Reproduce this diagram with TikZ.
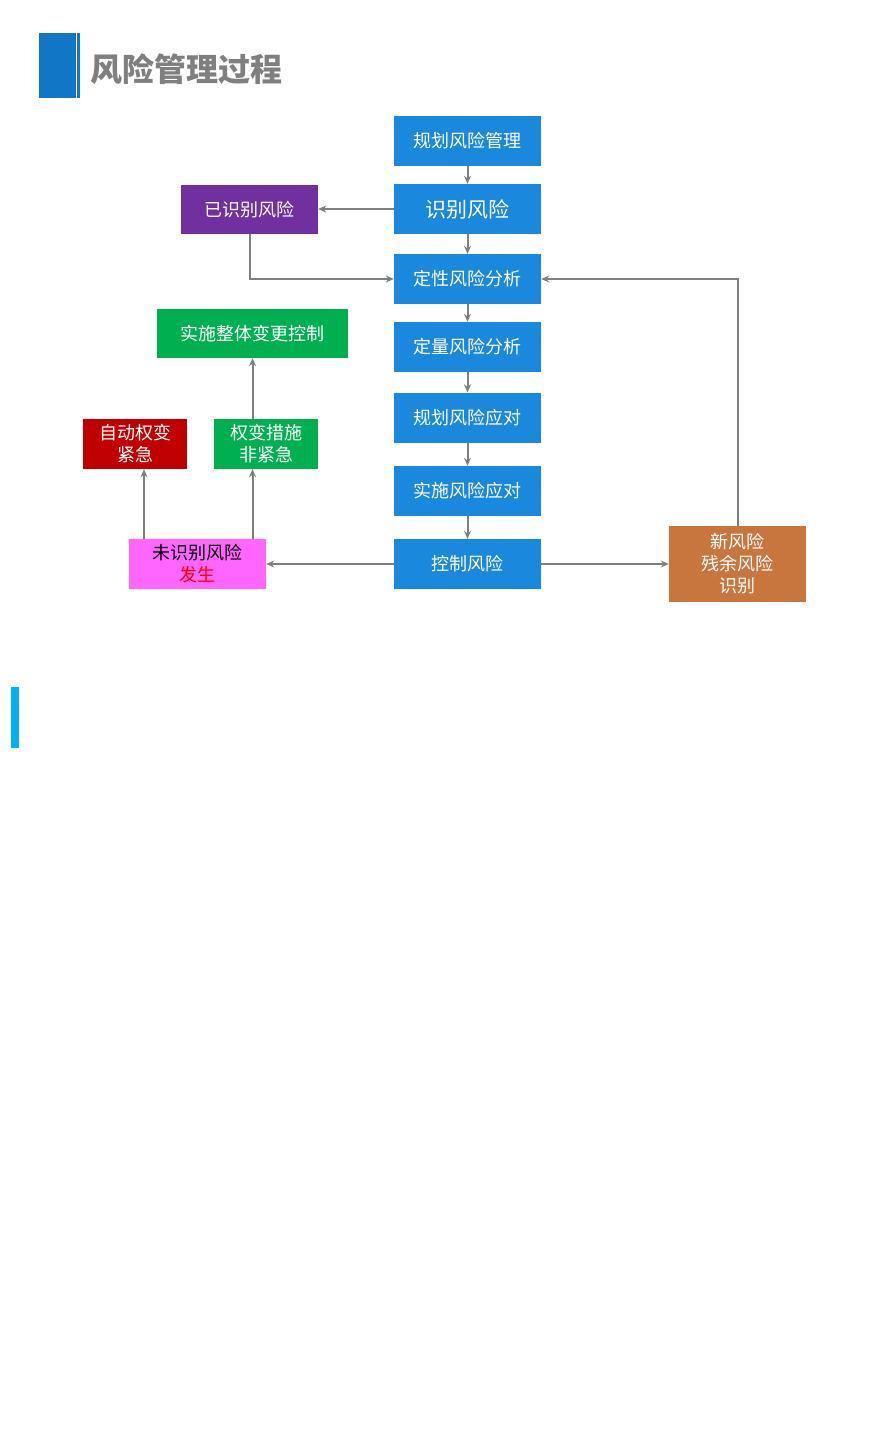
\documentclass[tikz,border=0pt]{standalone}
\usepackage{fontspec}
\newfontfamily\cjk{Noto Sans CJK SC}
\usetikzlibrary{arrows.meta}
\definecolor{boxblue}{HTML}{1A88DC}
\definecolor{headblue}{HTML}{1276C6}
\definecolor{boxpurple}{HTML}{7030A0}
\definecolor{boxred}{HTML}{C00000}
\definecolor{boxgreen}{HTML}{00B050}
\definecolor{boxpink}{HTML}{FF66FF}
\definecolor{boxorange}{HTML}{C8763E}
\definecolor{linegray}{HTML}{7F7F7F}
\definecolor{barcyan}{HTML}{00B0F0}

\begin{document}
\begin{tikzpicture}[x=1pt,y=-1pt,
  box/.style={minimum width=147pt,minimum height=50pt,inner sep=0,text=white,align=center,font=\cjk\fontsize{18}{22}\selectfont},
  link/.style={draw=linegray,line width=2pt,-{Stealth[length=8pt,width=7pt]}}]
\useasboundingbox (0,0) rectangle (873,1436);
% title
\fill[headblue] (39,33) rectangle (76,98);
\fill[headblue] (77,33) rectangle (80,98);
\node[anchor=west,text=linegray,font=\cjk\bfseries\fontsize{32}{34}\selectfont,inner sep=0] (title) at (90,69) {风险管理过程};
% main column
\foreach \j/\y/\t in {0/141/规划风险管理,2/279/定性风险分析,3/347/定量风险分析,4/417.5/规划风险应对,5/491/实施风险应对,6/564/控制风险}
  \node[box,fill=boxblue] (s\j) at (467.5,\y) {\t};
\node[box,fill=boxblue,font=\cjk\fontsize{21}{24}\selectfont] (s1) at (467.5,209) {识别风险};
% side boxes
\node[box,fill=boxpurple,minimum width=137pt,minimum height=49pt] (known) at (249.5,209.5) {已识别风险};
\node[box,fill=boxgreen,minimum width=191pt,minimum height=49pt] (change) at (252.5,333.5) {实施整体变更控制};
\node[box,fill=boxred,minimum width=104pt,minimum height=50pt] (auto) at (135,444) {自动权变\\紧急};
\node[box,fill=boxgreen,minimum width=104pt,minimum height=50pt] (work) at (266,444) {权变措施\\非紧急};
\node[box,fill=boxpink,minimum width=137pt,minimum height=50pt,text=black] (unknown) at (197.5,564) {未识别风险\\\textcolor{red}{发生}};
\node[box,fill=boxorange,minimum width=137pt,minimum height=76pt] (new) at (737.5,564) {新风险\\残余风险\\识别};
% connectors
\foreach \a/\b in {s0/s1,s1/s2,s2/s3,s3/s4,s4/s5,s5/s6}
  \draw[link] (\a) -- (\b);
\draw[link] (s1.west) -- (s1.west -| known.east);
\draw[link] (known.south) |- (s2.west);
\draw[link] (new.north) |- (s2.east);
\draw[link] (s6) -- (new);
\draw[link] (s6) -- (unknown);
\draw[link] ([xshift=9pt]auto.south |- unknown.north) -- ([xshift=9pt]auto.south);
\draw[link] (unknown.north -| change.south) -- (work.south -| change.south);
\draw[link] (work.north -| change.south) -- (change.south);
% side bar
\fill[barcyan] (11,687) rectangle (19,748);
\end{tikzpicture}
\end{document}
